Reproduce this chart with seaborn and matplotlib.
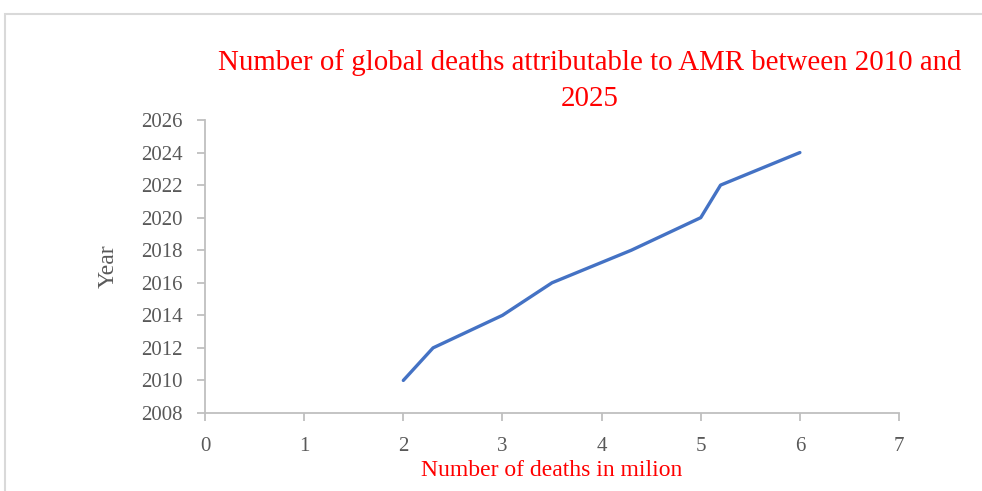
import pandas as pd
from matplotlib import pyplot as plt
from matplotlib.patches import Rectangle
import seaborn as sns

sns.set_style('white')
plt.rcParams['font.family'] = ['Liberation Serif', 'DejaVu Serif']

# deaths (millions) vs year
deaths = [2.0, 2.3, 3.0, 3.5, 4.3, 5.0, 5.2, 6.0]
years = [2010, 2012, 2014, 2016, 2018, 2020, 2022, 2024]
df = pd.DataFrame({'deaths': deaths, 'year': years})

fig = plt.figure(figsize=(9.82, 4.91), dpi=100)
ax = fig.add_axes([0.2088, 0.1589, 0.7067, 0.5967])

sns.lineplot(data=df, x='deaths', y='year', color='#4472C4', linewidth=2.4,
             sort=False, estimator=None, ax=ax)

ax.set_xlim(0, 7)
ax.set_ylim(2008, 2026)
ax.set_xticks(range(0, 8))
ax.set_yticks(range(2008, 2027, 2))

grey = '#BFBFBF'
for s in ['top', 'right']:
    ax.spines[s].set_visible(False)
for s in ['left', 'bottom']:
    ax.spines[s].set_color(grey)
    ax.spines[s].set_linewidth(1.3)
ax.tick_params(axis='both', which='major', direction='out', length=6, width=1.3,
               color=grey, labelcolor='#595959', labelsize=15,
               bottom=True, left=True)
ax.tick_params(axis='x', pad=11)
ax.tick_params(axis='y', pad=10)

ax.set_xlabel('Number of deaths in milion', color='red', fontsize=17, labelpad=3)
ax.set_ylabel('Year', color='#595959', fontsize=17, labelpad=16)

fig.text(0.600, 0.835,
         'Number of global deaths attributable to AMR between 2010 and\n2025',
         color='red', fontsize=20.8, ha='center', va='center', linespacing=1.5)

# outer chart border
fig.patches.append(Rectangle((5 / 982, -0.05), 1.2, 1 - 14 / 491 + 0.05,
                             transform=fig.transFigure, fill=False,
                             edgecolor='#D9D9D9', linewidth=1.5))

fig.savefig('out.png', dpi=100)
